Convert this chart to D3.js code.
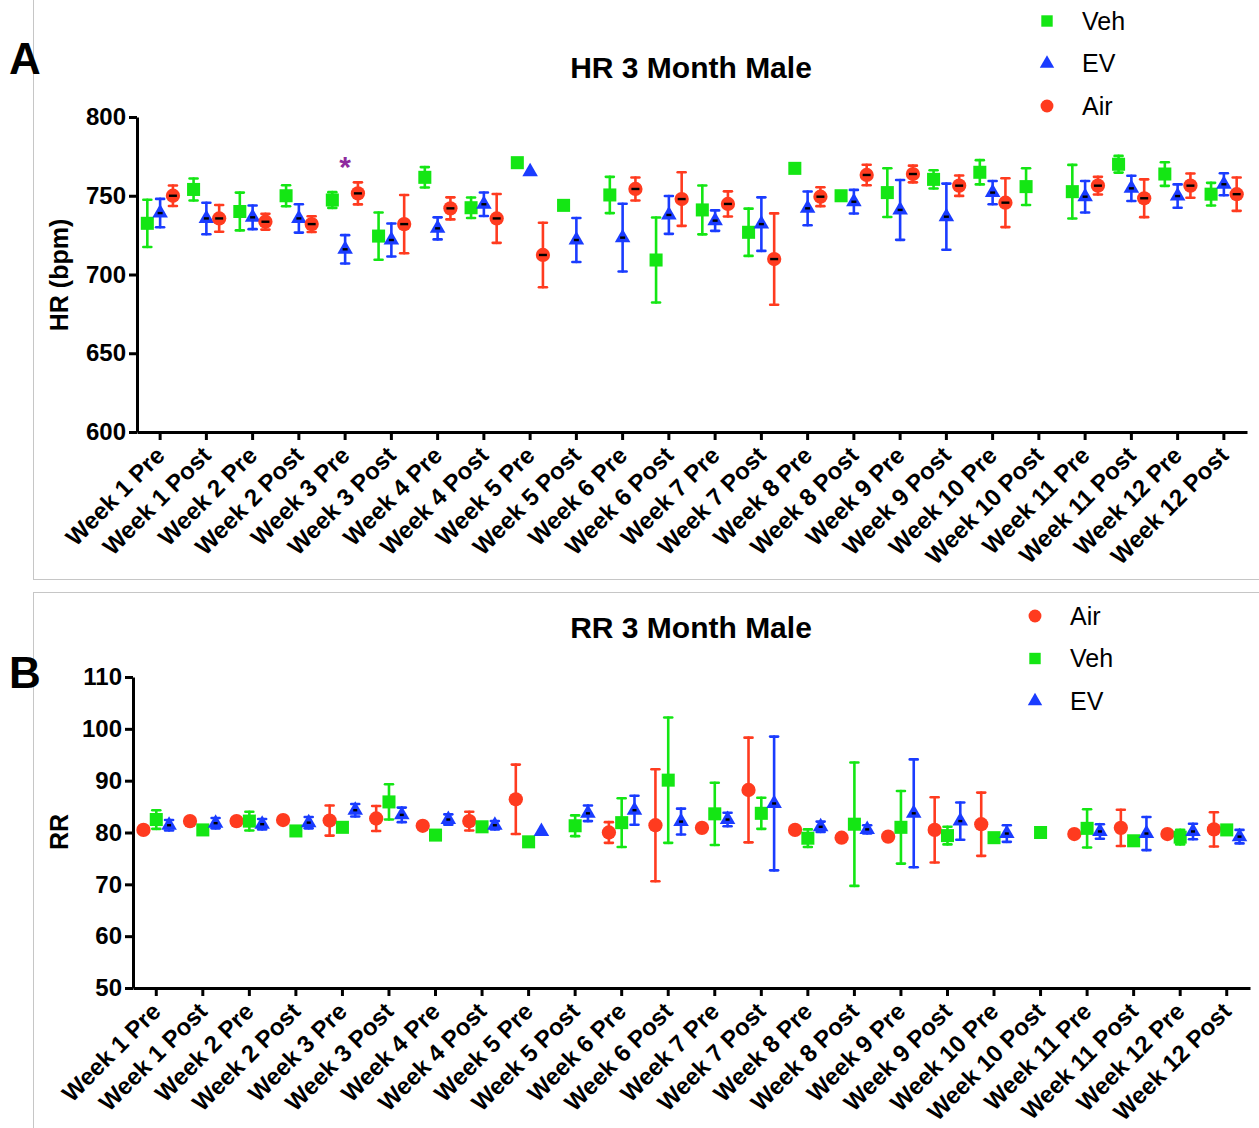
<!DOCTYPE html>
<html>
<head>
<meta charset="utf-8">
<script src="https://cdn.jsdelivr.net/npm/d3@7"></script>
<style>
  body { margin: 0; background: #fff; }
  svg { font-family: "Liberation Sans", Arial, sans-serif; }
  .axis path, .axis line { stroke: #000; stroke-width: 3; }
  .axis text { font-size: 24px; font-weight: bold; fill: #000; }
</style>
</head>
<body>
<svg id="chart" width="1259" height="1128"></svg>
<script>
// categories shared by both panels
var weeks = ["Week 1 Pre","Week 1 Post","Week 2 Pre","Week 2 Post","Week 3 Pre","Week 3 Post",
  "Week 4 Pre","Week 4 Post","Week 5 Pre","Week 5 Post","Week 6 Pre","Week 6 Post",
  "Week 7 Pre","Week 7 Post","Week 8 Pre","Week 8 Post","Week 9 Pre","Week 9 Post",
  "Week 10 Pre","Week 10 Post","Week 11 Pre","Week 11 Post","Week 12 Pre","Week 12 Post"];

// HR (bpm), mean and error
var hrVeh    = [732.5,754,740,750,747.3,724.4,761.7,742.4,771,743.9,750.5,709.2,741,726.8,767.4,750,752,760.4,764.9,755.8,752.6,770,763.8,751];
var hrVehErr = [15,7,12,6.7,5,15,6.5,6.5,0,2.5,11.5,27,15.5,15,0,0,15.5,5.8,7.7,11.7,17,5.3,7.5,7.2];
var hrEV     = [739,735.6,736.3,735.6,716,721.9,729.3,744.6,765.3,721.9,723.4,737.8,734.2,732,742,746.2,741,736.7,752,null,749.4,754.7,749.8,757.3];
var hrEVErr  = [9,10,7.5,9,9,10.5,7,7.5,0,14,21.5,12,6.5,17,10.7,7.5,19,21,7.4,null,10,8,7.4,7];
var hrAir    = [750,735.6,733.5,732,751.5,732,742,735.6,712.4,null,754.3,747.9,744.8,709.8,749.4,763.2,763.8,756.4,745.6,null,756.4,748.4,756.4,751];
var hrAirErr = [6.5,8.5,5,5,7,18.5,7,15.5,20.5,null,7.3,17,8,29,6,6.5,5.3,6.5,15.5,null,5.6,12,7.7,10.6];
var hrTicks  = [600,650,700,750,800];

// RR, mean and error
var rrAir    = [80.5,82.2,82.2,82.4,82.3,82.7,81.3,82.2,86.4,null,80,81.4,80.9,88.2,80.5,79,79.2,80.5,81.6,null,79.7,80.9,79.7,80.6];
var rrAirErr = [0,0,0,0,2.9,2.4,0,1.8,6.7,null,2,10.8,0,10.1,0,0,0,6.3,6.1,null,0,3.5,0,3.3];
var rrVeh    = [82.5,80.5,82.2,80.3,81,85.9,79.5,81.1,78.2,81.3,81.9,90.1,83.6,83.7,78.9,81.6,81,79.4,79,80,80.8,78.4,79.1,80.5];
var rrVehErr = [1.8,0,1.8,0,0,3.4,0,0,0,2,4.7,12.1,6,3,1.7,11.9,7,1.7,0,0,3.7,0,1.4,0.5];
var rrEV     = [81.4,81.8,81.6,81.9,84.3,83.4,82.5,81.4,80.2,83.7,84.3,82.1,82.5,85.6,81.1,80.6,83.7,82.2,79.8,null,80.2,79.8,80.2,79.2];
var rrEVErr  = [1,1,1,1.1,1.2,1.4,1,0.8,0,1.5,2.8,2.5,1.3,12.9,1,0.8,10.4,3.6,1.6,null,1.4,3.2,1.5,1.3];
var rrTicks  = [50,60,70,80,90,100,110];

var colors = { Veh: "#14e614", EV: "#1a3cff", Air: "#ff3b1f" };
var shapes = { Veh: d3.symbolSquare, EV: d3.symbolTriangle, Air: d3.symbolCircle };
var sizes  = { Veh: 170, EV: 105, Air: 160 };

var svg = d3.select("#chart");

// panel frames
svg.append("rect").attr("x", 33.5).attr("y", -10).attr("width", 1240).attr("height", 589.5)
  .attr("fill", "none").attr("stroke", "#c6c6c6");
svg.append("rect").attr("x", 33.5).attr("y", 592.5).attr("width", 1240).attr("height", 600)
  .attr("fill", "none").attr("stroke", "#c6c6c6");

function drawPanel(p) {
  var x = d3.scaleBand().domain(weeks).range(p.xRange);
  var y = d3.scaleLinear().domain(p.yDomain).range(p.yRange);
  var g = svg.append("g");

  // y axis
  g.append("g").attr("class", "axis")
    .attr("transform", "translate(" + p.xRange[0] + ",0)")
    .call(d3.axisLeft(y).tickValues(p.ticks).tickSize(8).tickSizeOuter(0).tickPadding(3));

  // x axis
  var xa = g.append("g").attr("class", "axis")
    .attr("transform", "translate(0," + p.yRange[0] + ")")
    .call(d3.axisBottom(x).tickSize(8).tickSizeOuter(0));
  xa.selectAll("text")
    .attr("x", 0).attr("y", 0).attr("dy", "0.35em")
    .attr("text-anchor", "end")
    .attr("transform", "translate(0,19) rotate(-45)");

  // series
  p.series.forEach(function(s, i) {
    var dx = (i - 1) * 12.8;
    var pts = weeks.map(function(w, j) {
      return { w: w, v: s.values[j], e: s.err[j] };
    }).filter(function(d) { return d.v != null; });
    var sg = g.append("g");
    var cx = function(d) { return x(d.w) + x.bandwidth() / 2 + dx; };

    var bars = sg.selectAll(".eb").data(pts.filter(function(d) { return d.e > 0; }))
      .enter().append("g").attr("stroke", colors[s.name]).attr("stroke-width", 2.6)
      .attr("stroke-linecap", "round");
    bars.append("line")
      .attr("x1", cx).attr("x2", cx)
      .attr("y1", function(d) { return y(d.v + d.e); })
      .attr("y2", function(d) { return y(d.v - d.e); });
    bars.append("line")
      .attr("x1", function(d) { return cx(d) - 4; }).attr("x2", function(d) { return cx(d) + 4; })
      .attr("y1", function(d) { return y(d.v + d.e); }).attr("y2", function(d) { return y(d.v + d.e); });
    bars.append("line")
      .attr("x1", function(d) { return cx(d) - 4; }).attr("x2", function(d) { return cx(d) + 4; })
      .attr("y1", function(d) { return y(d.v - d.e); }).attr("y2", function(d) { return y(d.v - d.e); });

    sg.selectAll(".pt").data(pts).enter().append("path")
      .attr("d", d3.symbol().type(shapes[s.name]).size(sizes[s.name]))
      .attr("transform", function(d) { return "translate(" + cx(d) + "," + y(d.v) + ")"; })
      .attr("fill", colors[s.name]);

    // little black mean marks GraphPad leaves inside the symbols
    if (s.mark) {
      sg.selectAll(".mk").data(pts.filter(function(d) { return d.e > 0; })).enter().append("rect")
        .attr("x", function(d) { return cx(d) - s.mark / 2; })
        .attr("y", function(d) { return y(d.v) - 1.2; })
        .attr("width", s.mark).attr("height", 2.4)
        .attr("fill", "#000");
    }
  });

  // title
  svg.append("text").attr("x", 691).attr("y", p.titleY).attr("text-anchor", "middle")
    .attr("font-size", 30).attr("font-weight", "bold").text(p.title);

  // y axis title
  svg.append("text").attr("transform", "translate(68," + p.yTitleY + ") rotate(-90)")
    .attr("text-anchor", "middle").attr("font-size", 25).attr("font-weight", "bold").text(p.yTitle);

  // panel letter
  svg.append("text").attr("x", 9).attr("y", p.letterY).attr("font-size", 44)
    .attr("font-weight", "bold").text(p.letter);

  // legend
  var lg = svg.append("g");
  p.series.slice().sort(function(a, b) { return a.legendPos - b.legendPos; }).forEach(function(s, i) {
    var ly = p.legendY + i * 42.5;
    lg.append("path")
      .attr("d", d3.symbol().type(shapes[s.name]).size(s.name === "EV" ? 90 : 130))
      .attr("transform", "translate(" + p.legendX + "," + ly + ")")
      .attr("fill", colors[s.name]);
    lg.append("text").attr("x", p.legendX + 35).attr("y", ly).attr("dy", "0.35em")
      .attr("font-size", 25).text(s.name);
  });
  return { x: x, y: y };
}

var hr = drawPanel({
  title: "HR 3 Month Male", titleY: 78, yTitle: "HR (bpm)", yTitleY: 275,
  letter: "A", letterY: 74,
  xRange: [137, 1247], yDomain: [600, 800], yRange: [432, 117], ticks: hrTicks,
  legendX: 1047, legendY: 21,
  series: [
    { name: "Veh", values: hrVeh, err: hrVehErr, legendPos: 0 },
    { name: "EV",  values: hrEV,  err: hrEVErr,  legendPos: 1, mark: 5 },
    { name: "Air", values: hrAir, err: hrAirErr, legendPos: 2, mark: 8 }
  ]
});

drawPanel({
  title: "RR 3 Month Male", titleY: 638, yTitle: "RR", yTitleY: 832,
  letter: "B", letterY: 688,
  xRange: [133, 1250], yDomain: [50, 110], yRange: [988, 677], ticks: rrTicks,
  legendX: 1035, legendY: 616,
  series: [
    { name: "Air", values: rrAir, err: rrAirErr, legendPos: 0 },
    { name: "Veh", values: rrVeh, err: rrVehErr, legendPos: 1 },
    { name: "EV",  values: rrEV,  err: rrEVErr,  legendPos: 2, mark: 4 }
  ]
});

// significance star above Week 3 Pre
svg.append("text")
  .attr("x", hr.x("Week 3 Pre") + hr.x.bandwidth() / 2)
  .attr("y", hr.y(775)).attr("dy", "0.7em").attr("text-anchor", "middle")
  .attr("font-size", 30).attr("font-weight", "bold").attr("fill", "#8e2a9e").text("*");
</script>
</body>
</html>
